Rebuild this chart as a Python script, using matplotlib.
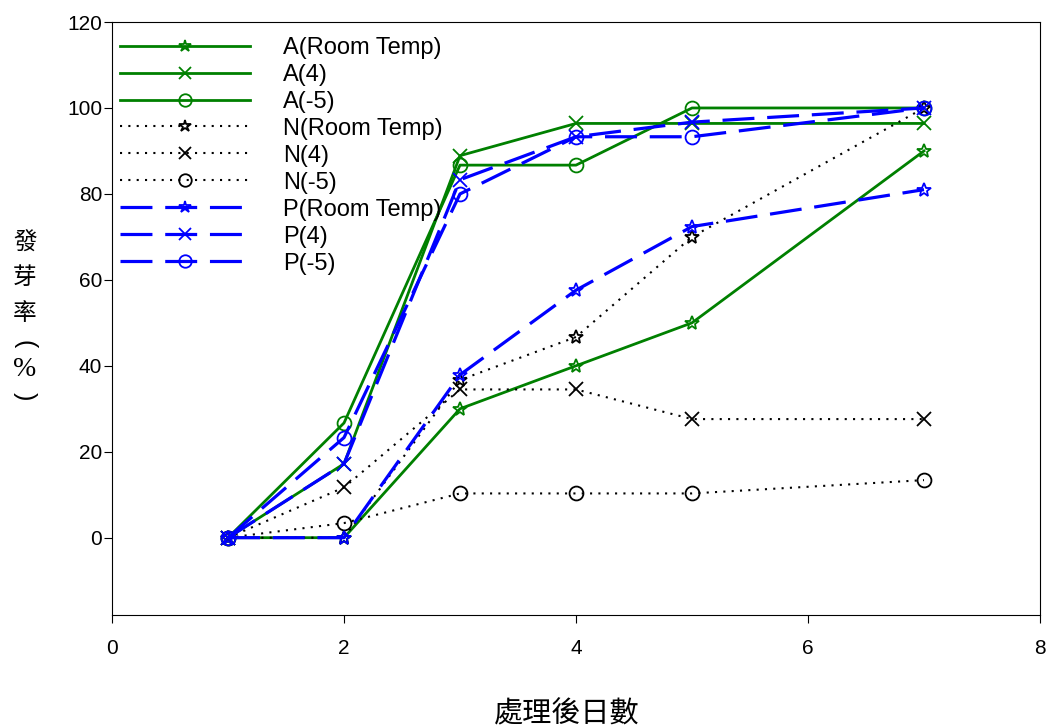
import matplotlib
matplotlib.use("Agg")
import matplotlib.pyplot as plt

plt.rcParams['font.family'] = ['Liberation Sans', 'Noto Sans CJK TC', 'DejaVu Sans']

# days after treatment
days = [1, 2, 3, 4, 5, 7]

# germination rate (%)
a_rt = [0, 0, 30, 40, 50, 90]
a_4 = [0, 17.2, 88.9, 96.4, 96.4, 96.4]
a_m5 = [0, 26.7, 86.7, 86.7, 100, 100]
n_rt = [0, 0, 36.7, 46.7, 70, 100]
n_4 = [0, 11.7, 34.5, 34.5, 27.6, 27.6]
n_m5 = [0, 3.4, 10.3, 10.3, 10.3, 13.4]
p_rt = [0, 0, 37.9, 57.6, 72.4, 81]
p_4 = [0, 17.2, 83.3, 93.3, 96.7, 100]
p_m5 = [0, 23.3, 80, 93.3, 93.3, 100]

series = [
    ("A(Room Temp)", a_rt, "*"), ("A(4)", a_4, "x"), ("A(-5)", a_m5, "o"),
    ("N(Room Temp)", n_rt, "*"), ("N(4)", n_4, "x"), ("N(-5)", n_m5, "o"),
    ("P(Room Temp)", p_rt, "*"), ("P(4)", p_4, "x"), ("P(-5)", p_m5, "o"),
]

fig = plt.figure(figsize=(10.49, 7.27), dpi=100)
ax = fig.add_axes([0.1068, 0.154, 0.8846, 0.8157])

for label, vals, mk in series:
    group = label[0]
    if group == "A":
        ax.plot(days, vals, color="green", lw=2, ls="-", marker=mk,
                ms=10, mew=1.3, fillstyle="none", label=label)
    elif group == "N":
        ax.plot(days, vals, color="black", lw=1.5, ls=(0, (1, 3)), marker=mk,
                ms=10, mew=1.3, fillstyle="none", label=label)
    else:
        ax.plot(days, vals, color="blue", lw=2.3, ls=(0, (10, 4)), marker=mk,
                ms=10, mew=1.3, fillstyle="none", label=label)

ax.set_xlim(0, 8)
ax.set_ylim(-18, 120)
ax.set_xticks([0, 2, 4, 6, 8])
ax.set_yticks(range(0, 121, 20))
ax.tick_params(labelsize=15, direction="out", top=False, right=False)
ax.tick_params(axis="x", length=6, pad=11)
ax.tick_params(axis="y", length=6, pad=1)

ax.legend(loc="upper left", bbox_to_anchor=(0.0086, 0.975), frameon=False,
          fontsize=17, handlelength=5.5, handletextpad=1.4, labelspacing=0.21,
          borderaxespad=0, borderpad=0, markerscale=0.9)

# vertical y label: 發芽率(%) stacked, brackets turned sideways
x_lab = 25 / 1049
for ch, py in zip(["發", "芽", "率"], [243, 278, 313]):
    fig.text(x_lab, 1 - py / 727, ch, family=['Noto Sans CJK TC'],
             fontsize=17, ha="center", va="center")
fig.text(x_lab, 1 - 344 / 727, "(", family=['Liberation Sans'], fontsize=18,
         rotation=-90, ha="center", va="center")
fig.text(x_lab, 1 - 369 / 727, "%", family=['Liberation Serif'], fontsize=20,
         ha="center", va="center")
fig.text(x_lab, 1 - 396 / 727, ")", family=['Liberation Sans'], fontsize=18,
         rotation=-90, ha="center", va="center")

fig.text(567 / 1049, 1 - 714 / 727, "處理後日數", family=['Noto Sans CJK TC'],
         fontsize=21, ha="center", va="center")

fig.savefig("out.png", dpi=100)
